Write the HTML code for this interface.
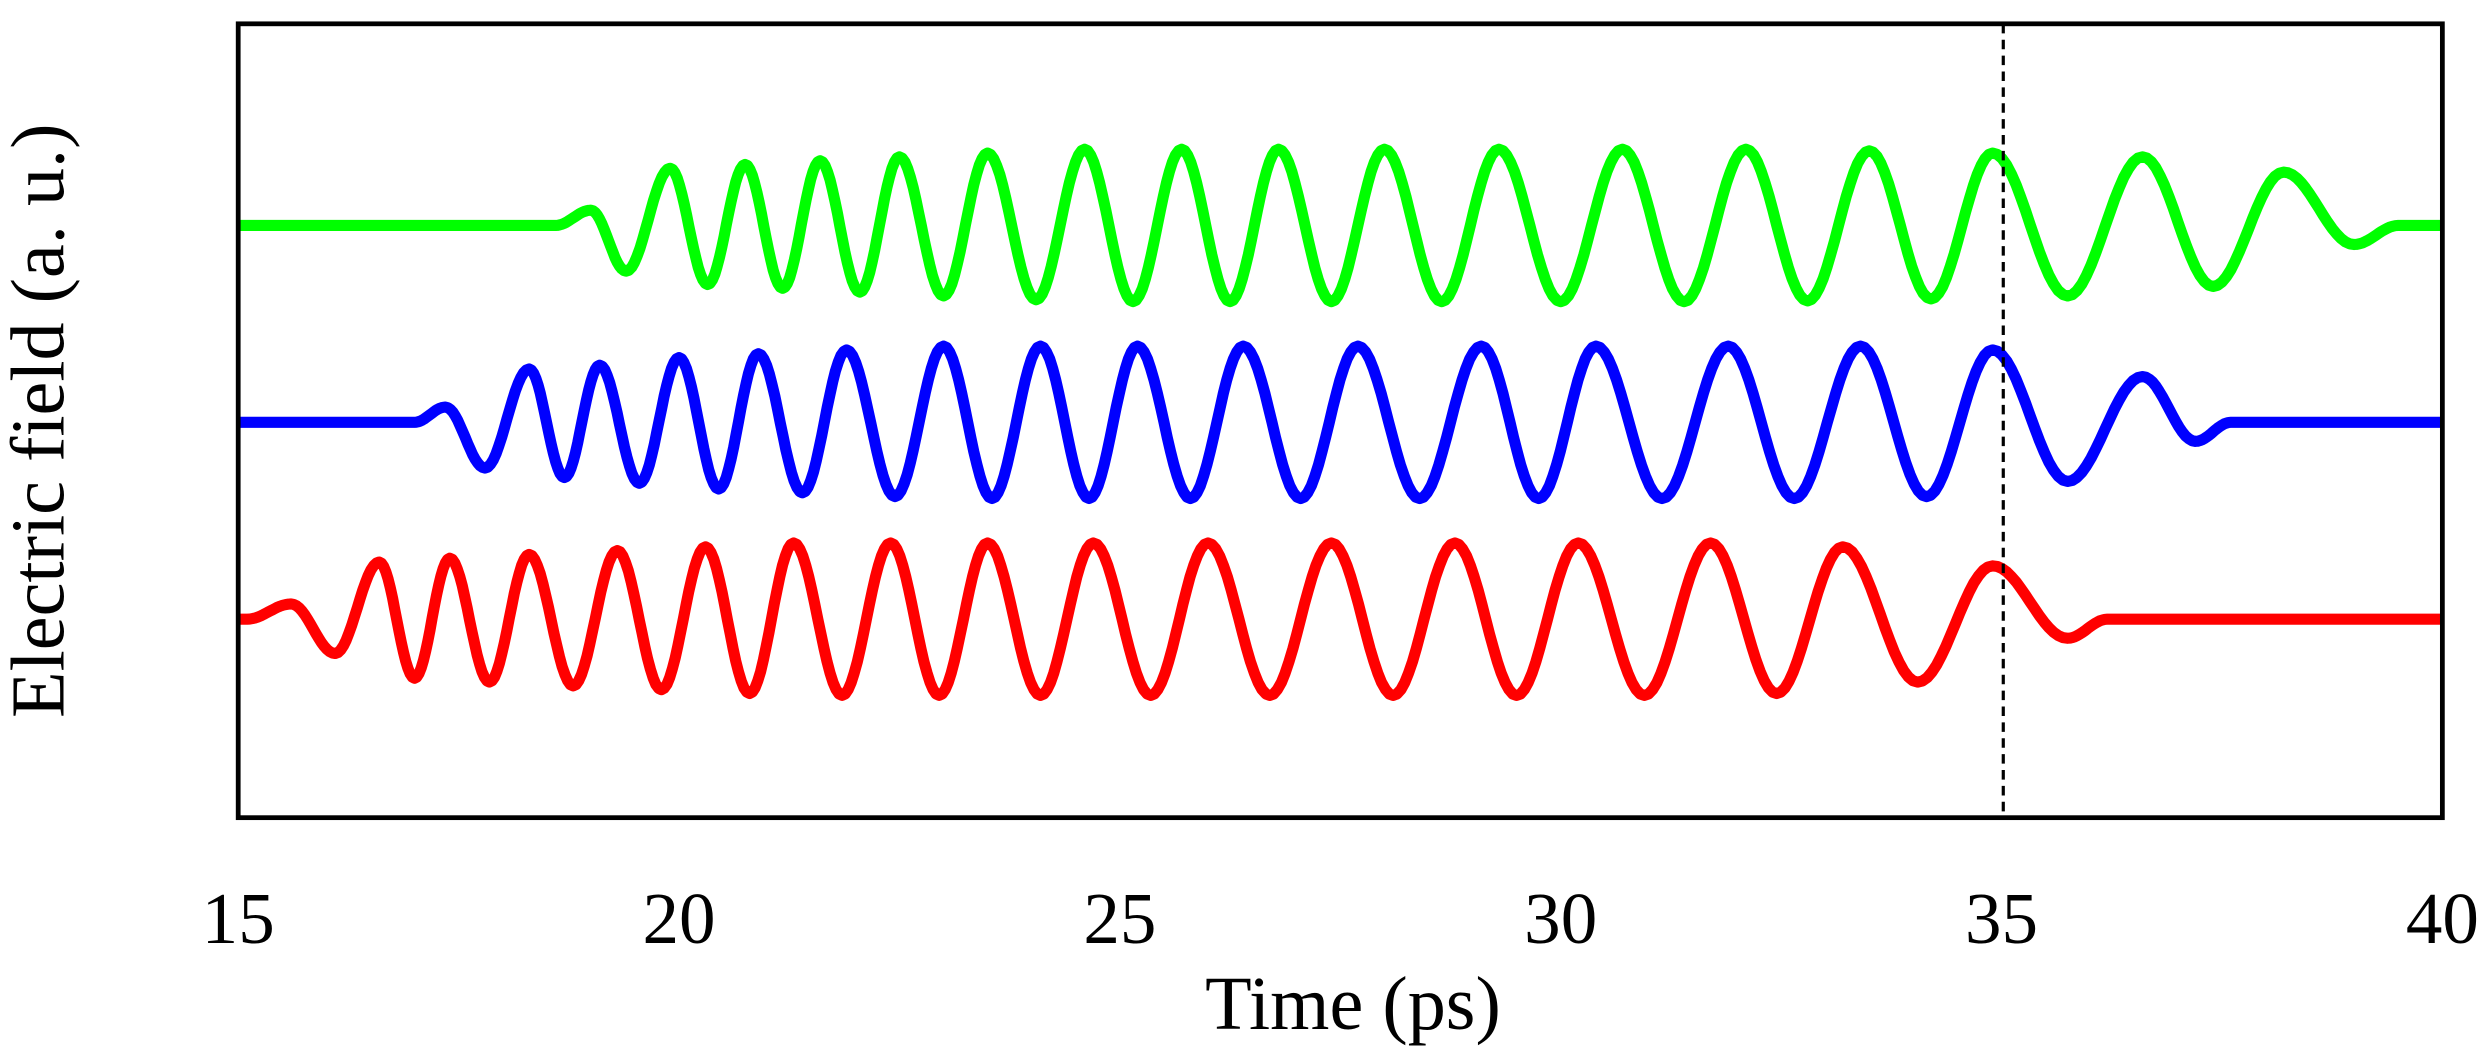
<!DOCTYPE html>
<html><head><meta charset="utf-8"><style>
html,body{margin:0;padding:0;background:#fff;}
svg{display:block;}
text{font-family:"Liberation Serif",serif;fill:#000;}
</style></head><body>
<svg id="s" width="2490" height="1059" viewBox="0 0 1568 667" preserveAspectRatio="none" xmlns="http://www.w3.org/2000/svg">
<rect x="0" y="0" width="1568" height="667" fill="#fff"/>
<g id="curves"></g>
<line x1="1261.5" y1="15" x2="1261.5" y2="515" stroke="#000" stroke-width="2" stroke-dasharray="6,4"/>
<rect x="150" y="15" width="1388" height="500" fill="none" stroke="#000" stroke-width="3"/>
<g font-size="46" text-anchor="middle">
<text x="150" y="594">15</text>
<text x="427.6" y="594">20</text>
<text x="705.2" y="594">25</text>
<text x="982.8" y="594">30</text>
<text x="1260.4" y="594">35</text>
<text x="1538" y="594">40</text>
<text x="852" y="648" font-size="48">Time (ps)</text>
<text transform="translate(40,265) rotate(-90)" font-size="48">Electric field (a. u.)</text>
</g>
</svg>
<script>
function X(t){return 150+(t-15)*55.52;}
function build(pre,peaks,amps,post,base,col){
  var ex=pre.slice();
  for(var i=0;i<peaks.length;i++){
    ex.push([peaks[i],amps[i]]);
    if(i<peaks.length-1){
      var a=(amps[i]+amps[i+1])/2;
      ex.push([(peaks[i]+peaks[i+1])/2,-a]);
    }
  }
  ex=ex.concat(post);
  var d="M150,"+base;
  d+=" L"+X(ex[0][0]).toFixed(1)+","+base;
  for(var j=0;j<ex.length-1;j++){
    var t0=ex[j][0],t1=ex[j+1][0],v0=ex[j][1],v1=ex[j+1][1];
    for(var k=1;k<=16;k++){
      var f=k/16,w=(1-Math.cos(Math.PI*f))/2;
      var v=v0+(v1-v0)*w;
      var t=t0+(t1-t0)*f;
      d+=" L"+X(t).toFixed(1)+","+(base-v*48).toFixed(1);
    }
  }
  d+=" L1538,"+base;
  var p=document.createElementNS("http://www.w3.org/2000/svg","path");
  p.setAttribute("d",d);p.setAttribute("fill","none");p.setAttribute("stroke",col);
  p.setAttribute("stroke-width","7");p.setAttribute("stroke-linejoin","round");
  document.getElementById("curves").appendChild(p);
}
build([[18.6,0],[19.0,0.2],[19.4,-0.6]],
 [19.9,20.75,21.6,22.5,23.5,24.6,25.7,26.8,28.0,29.3,30.7,32.1,33.5,34.9,36.6,38.2],
 [0.75,0.8,0.85,0.9,0.95,1,1,1,1,1,1,1,0.98,0.95,0.9,0.7],
 [[39.0,-0.25],[39.5,0]],142,"#00ff00");
build([[17.0,0],[17.35,0.2],[17.8,-0.6]],
 [18.3,19.1,20.0,20.9,21.9,23.0,24.1,25.2,26.4,27.7,29.1,30.4,31.9,33.4,34.9,36.6],
 [0.7,0.75,0.85,0.9,0.95,1,1,1,1,1,1,1,1,1,0.95,0.6],
 [[37.2,-0.25],[37.6,0]],266,"#0000ff");
build([[15.1,0],[15.6,0.2],[16.1,-0.45]],
 [16.6,17.4,18.3,19.3,20.3,21.3,22.4,23.5,24.7,26.0,27.4,28.8,30.2,31.7,33.2,34.9],
 [0.75,0.8,0.85,0.9,0.95,1,1,1,1,1,1,1,1,1,0.95,0.7],
 [[35.75,-0.25],[36.2,0]],390,"#ff0000");
</script>
</body></html>
